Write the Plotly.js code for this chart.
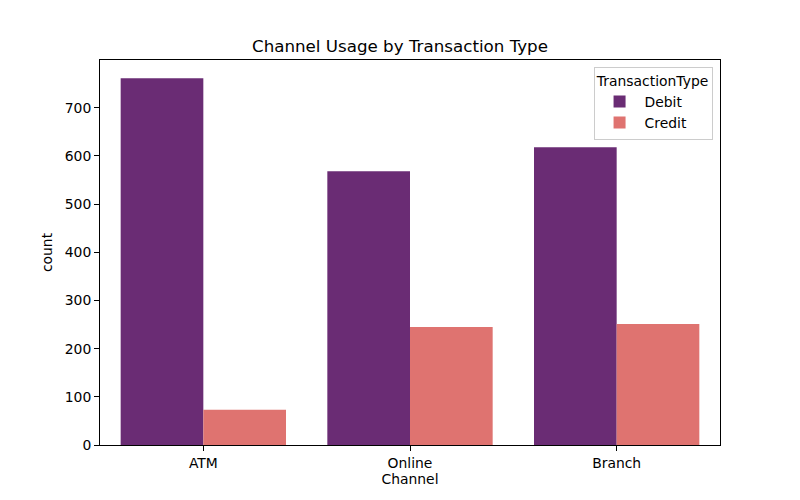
<!DOCTYPE html>
<html>
<head>
<meta charset="utf-8">
<script src="https://cdn.plot.ly/plotly-3.0.1.min.js"></script>
<style>html,body{margin:0;padding:0;background:#fff;}#chart{width:800px;height:500px;}</style>
</head>
<body>
<div id="chart"></div>
<script>
const channels = ["ATM", "Online", "Branch"];
const debitCounts = [761, 568, 618];
const creditCounts = [73, 245, 251];
const seriesNames = ["Debit", "Credit"];
const seriesColors = ["#6a2c74", "#df7370"];

const font = "DejaVu Sans, sans-serif";
const traces = [
  {type: "bar", name: seriesNames[0], x: channels, y: debitCounts, marker: {color: seriesColors[0], line: {width: 0}}},
  {type: "bar", name: seriesNames[1], x: channels, y: creditCounts, marker: {color: seriesColors[1], line: {width: 0}}}
];
const layout = {
  width: 800, height: 500,
  margin: {l: 100, r: 80, t: 60, b: 55},
  paper_bgcolor: "#fff", plot_bgcolor: "#fff",
  font: {family: font, size: 13.9, color: "#000"},
  title: {text: "Channel Usage by Transaction Type", font: {family: font, size: 16.7, color: "#000"}, x: 0.5, xanchor: "center", y: 0.907, yanchor: "middle"},
  barmode: "group", bargap: 0.2, bargroupgap: 0,
  xaxis: {
    title: {text: "Channel", font: {size: 13.9}, standoff: 4},
    range: [-0.5, 2.5], showline: true, mirror: true, linecolor: "#000", linewidth: 1,
    ticks: "outside", ticklen: 5, tickcolor: "#000", showgrid: false, zeroline: false
  },
  yaxis: {
    title: {text: "count", font: {size: 13.9}, standoff: 8},
    range: [0, 799], dtick: 100, tick0: 0, showline: true, mirror: true, linecolor: "#000", linewidth: 1,
    ticks: "outside", ticklen: 5, tickcolor: "#000", showgrid: false, zeroline: false
  },
  legend: {
    x: 0.988, xanchor: "right", y: 0.982, yanchor: "top",
    bgcolor: "rgba(255,255,255,0.8)", bordercolor: "#cccccc", borderwidth: 1,
    title: {text: "TransactionType", side: "top center", font: {size: 13.9}},
    font: {size: 13.9}, itemwidth: 40, tracegroupgap: 0
  },
  showlegend: true
};
Plotly.newPlot("chart", traces, layout, {staticPlot: true, displayModeBar: false});
</script>
</body>
</html>
